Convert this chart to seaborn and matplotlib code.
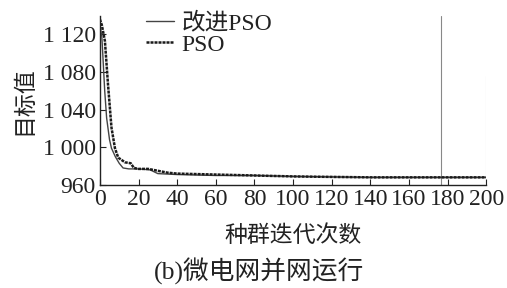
import matplotlib
matplotlib.use("Agg")
import matplotlib.pyplot as plt
import seaborn as sns
import pandas as pd

# Data
iter_improved = [0, 1, 1.5, 2.5, 3.5, 5, 6, 8, 10, 12, 15, 20, 26, 30, 40, 60, 80, 100, 140, 200]
val_improved = [1130, 1118, 1099, 1060, 1031, 1008, 999, 990, 983, 978, 977, 977, 976, 972, 971, 970, 970, 969, 968, 968]
iter_pso = [0, 1, 2.6, 4.2, 6, 7.8, 9.5, 13, 16, 17.6, 20, 25, 30, 35, 40, 60, 80, 100, 140, 200]
val_pso = [1136, 1130, 1113, 1067, 1021, 999, 989, 984, 983, 978, 977, 977, 975, 973, 972, 971, 970, 969, 968, 968]
legend_labels = ["改进PSO", "PSO"]
x_ticks = [0, 20, 40, 60, 80, 100, 120, 140, 160, 180, 200]
y_ticks = [960, 1000, 1040, 1080, 1120]
y_tick_labels = ["960", "1 000", "1 040", "1 080", "1 120"]

sns.set_theme(style="ticks")
plt.rcParams["font.family"] = ["Liberation Serif", "Noto Sans CJK SC", "DejaVu Sans"]
plt.rcParams["axes.unicode_minus"] = False

df1 = pd.DataFrame({"x": iter_improved, "y": val_improved})
df2 = pd.DataFrame({"x": iter_pso, "y": val_pso})

fig = plt.figure(figsize=(5.07, 2.88), dpi=100)
ax = fig.add_axes([0.197, 0.358, 0.762, 0.588])

sns.lineplot(data=df1, x="x", y="y", ax=ax, color="#444444", linewidth=1.0,
             label=legend_labels[0])
sns.lineplot(data=df2, x="x", y="y", ax=ax, color="#1a1a1a", linewidth=1.8,
             linestyle=(0, (1.2, 0.4)), label=legend_labels[1])

# scan artifact lines
ax.axvline(176.5, color="#888888", linewidth=0.8, zorder=0)
ax.plot([200, 200], [960, 1076], color="#cccccc", linewidth=0.8, zorder=0)

ax.set_xlim(0, 200)
ax.set_ylim(960, 1140)
ax.set_xticks(x_ticks)
ax.set_xticklabels([str(v) for v in x_ticks])
ax.set_yticks(y_ticks)
ax.set_yticklabels(y_tick_labels)
ax.tick_params(direction="in", length=4, width=0.8, labelsize=17, colors="#222222",
               pad=3)
for s in ["top", "right"]:
    ax.spines[s].set_visible(False)
for s in ["left", "bottom"]:
    ax.spines[s].set_color("#222222")
    ax.spines[s].set_linewidth(1.0)

ax.set_xlabel("种群迭代次数", fontsize=16.5, family=["Noto Sans CJK SC"], labelpad=10, color="#222222")
ax.set_ylabel("目标值", fontsize=16.5, family=["Noto Sans CJK SC"], labelpad=5, color="#222222")

leg = ax.legend(loc="upper left", bbox_to_anchor=(0.095, 1.075), frameon=False,
                fontsize=17, handlelength=1.2, handletextpad=0.3, labelspacing=0.0,
                borderaxespad=0)
for t in leg.get_texts():
    t.set_color("#222222")

fig.text(0.51, 0.012, "(b)微电网并网运行", ha="center", va="bottom", fontsize=18.5,
         family=["Liberation Serif", "Noto Sans CJK SC"], color="#222222")

fig.savefig("out.png", dpi=100)
